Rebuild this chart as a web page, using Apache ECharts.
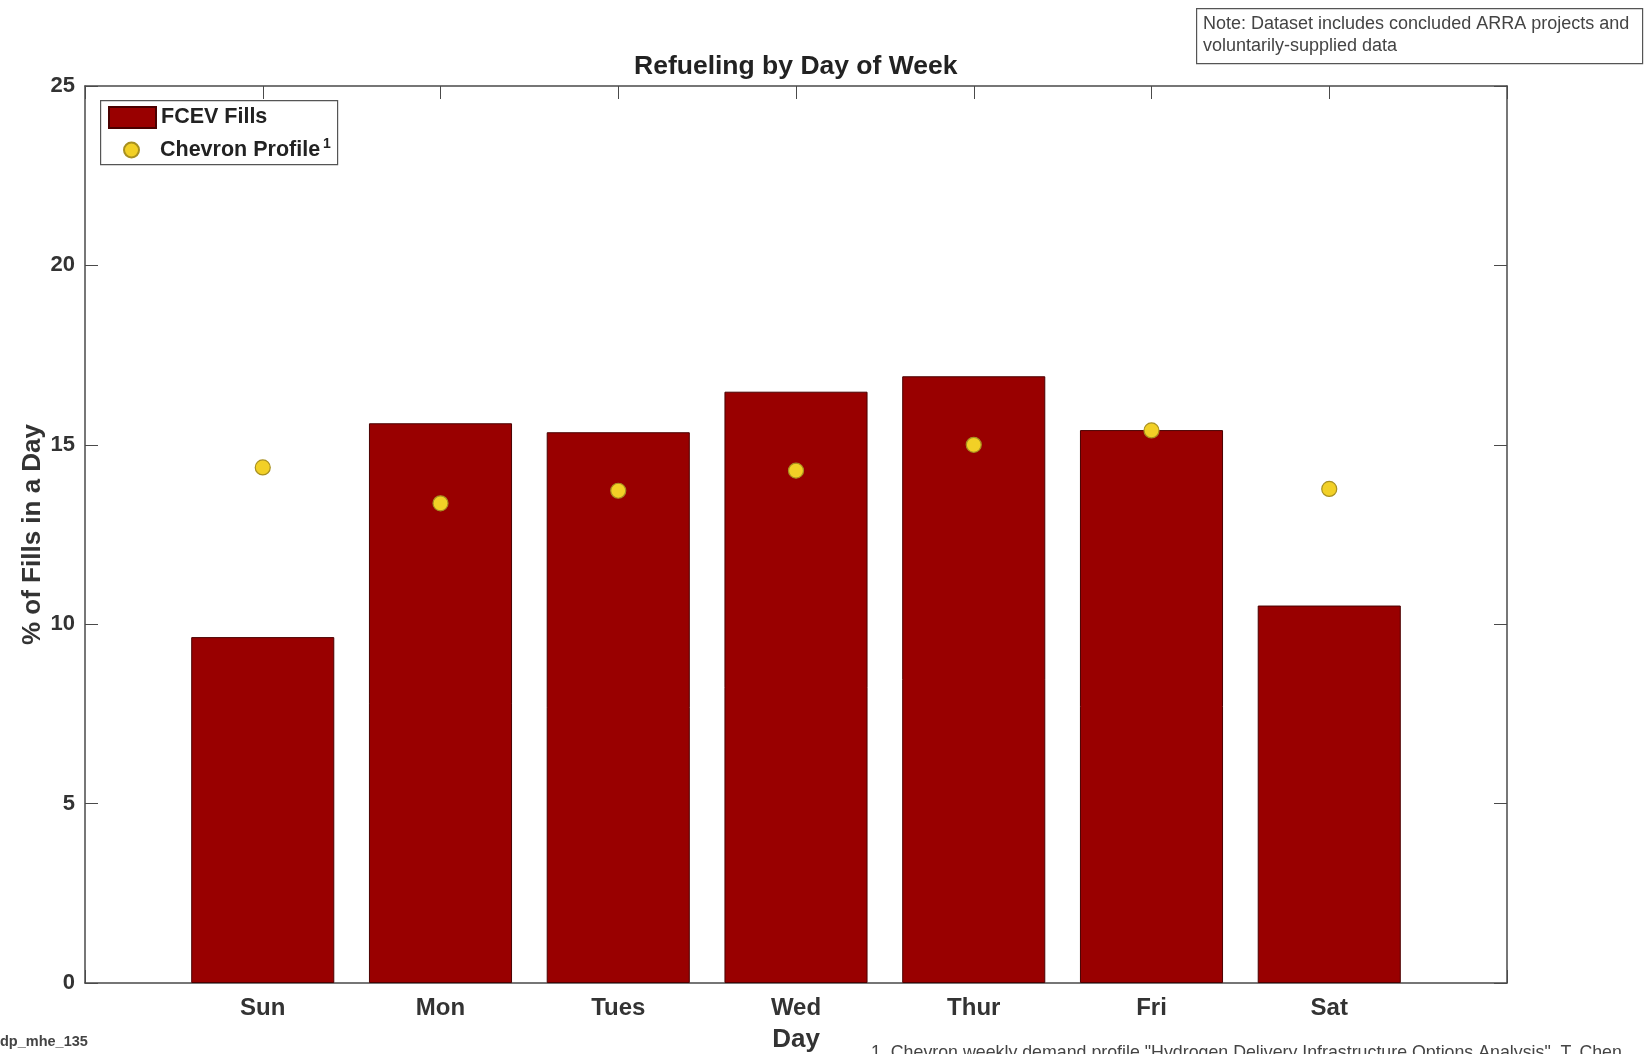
<!DOCTYPE html>
<html>
<head>
<meta charset="utf-8">
<script src="https://cdn.jsdelivr.net/npm/echarts@6/dist/echarts.min.js"></script>
<style>
html,body{margin:0;padding:0;background:#fff;}
#c{width:1645px;height:1054px;}
</style>
</head>
<body>
<div id="c"></div>
<script>
const days = ['Sun', 'Mon', 'Tues', 'Wed', 'Thur', 'Fri', 'Sat'];
const fcevFills = [9.64, 15.60, 15.35, 16.48, 16.91, 15.41, 10.52];
const chevronProfile = [14.37, 13.37, 13.72, 14.28, 15.00, 15.40, 13.77];
const yTicks = [0, 5, 10, 15, 20, 25];

// MATLAB-style x range: one empty slot each side of the seven days
const xCats = [''].concat(days, ['']);
const barData = [null].concat(fcevFills, [null]);
const dotData = [null].concat(chevronProfile, [null]);

const FONT = "'Liberation Sans', Arial, Helvetica, sans-serif";
const TXT = '#333333';
const AX = '#4a4a4a';

const chart = echarts.init(document.getElementById('c'), null, {renderer: 'canvas'});

const option = {
  backgroundColor: '#ffffff',
  animation: false,
  title: {
    text: 'Refueling by Day of Week',
    left: 634, top: 53, padding: 0,
    textStyle: {fontFamily: FONT, fontSize: 26.5, fontWeight: 'bold', color: '#222'}
  },
  legend: [
    {
      data: [{name: 'FCEV Fills', icon: 'rect'}],
      left: 108, top: 106, orient: 'vertical', padding: 0,
      itemWidth: 47, itemHeight: 21,
      textStyle: {fontFamily: FONT, fontSize: 21.5, fontWeight: 'bold', color: '#222'}
    },
    {
      data: [{name: 'Chevron Profile', icon: 'circle'}],
      left: 123, top: 137, orient: 'vertical', padding: 0,
      itemWidth: 47, itemHeight: 15,
      formatter: function (n) { return '{a|' + n + '}{s|1}'; },
      textStyle: {
        fontFamily: FONT, fontSize: 21.5, fontWeight: 'bold', color: '#222',
        rich: {
          a: {fontFamily: FONT, fontSize: 21.5, fontWeight: 'bold', color: '#222'},
          s: {fontFamily: FONT, fontSize: 14, fontWeight: 'bold', color: '#222', verticalAlign: 'top', padding: [0, 0, 12, 3]}
        }
      }
    }
  ],
  grid: {left: 85, right: 138, top: 86, bottom: 71, containLabel: false, outerBoundsMode: 'none'},
  xAxis: [
    {
      type: 'category', data: xCats, position: 'bottom', boundaryGap: false,
      name: 'Day', nameLocation: 'middle', nameGap: 44, nameMoveOverlap: false,
      nameTextStyle: {fontFamily: FONT, fontSize: 26, fontWeight: 'bold', color: TXT},
      axisLine: {show: true, onZero: false, lineStyle: {color: AX, width: 1.5}},
      axisTick: {show: true, inside: true, length: 13, lineStyle: {color: AX, width: 1}},
      axisLabel: {fontFamily: FONT, fontSize: 24, fontWeight: 'bold', color: TXT, margin: 13, interval: 0},
      splitLine: {show: false}
    },
    {
      type: 'category', data: xCats, position: 'top', boundaryGap: false,
      axisLine: {show: true, onZero: false, lineStyle: {color: AX, width: 1.5}},
      axisTick: {show: true, inside: true, length: 13, lineStyle: {color: AX, width: 1}},
      axisLabel: {show: false},
      splitLine: {show: false}
    }
  ],
  yAxis: [
    {
      type: 'value', min: yTicks[0], max: yTicks[yTicks.length - 1], interval: 5, position: 'left',
      name: '% of Fills in a Day', nameLocation: 'middle', nameGap: 39, nameRotate: 90, nameMoveOverlap: false,
      nameTextStyle: {fontFamily: FONT, fontSize: 26, fontWeight: 'bold', color: TXT},
      axisLine: {show: true, onZero: false, lineStyle: {color: AX, width: 1.5}},
      axisTick: {show: true, inside: true, length: 13, lineStyle: {color: AX, width: 1}},
      axisLabel: {fontFamily: FONT, fontSize: 22, fontWeight: 'bold', color: TXT, margin: 10},
      splitLine: {show: false}
    },
    {
      type: 'value', min: yTicks[0], max: yTicks[yTicks.length - 1], interval: 5, position: 'right',
      axisLine: {show: true, onZero: false, lineStyle: {color: AX, width: 1.5}},
      axisTick: {show: true, inside: true, length: 13, lineStyle: {color: AX, width: 1}},
      axisLabel: {show: false},
      splitLine: {show: false}
    }
  ],
  series: [
    {
      name: 'FCEV Fills', type: 'bar', data: barData,
      xAxisIndex: 0, yAxisIndex: 0,
      barWidth: '80.5%',
      itemStyle: {color: '#990000', borderColor: '#4a0000', borderWidth: 1}
    },
    {
      name: 'Chevron Profile', type: 'scatter', data: dotData,
      xAxisIndex: 0, yAxisIndex: 0,
      symbol: 'circle', symbolSize: 15, z: 5,
      itemStyle: {color: '#f2d026', borderColor: '#a89020', borderWidth: 1.2, opacity: 1}
    }
  ],
  graphic: [
    {
      type: 'rect', left: 100, top: 100, z: 100,
      shape: {width: 237, height: 64},
      style: {fill: 'rgba(0,0,0,0)', stroke: '#555', lineWidth: 1.2},
      silent: true
    },
    {
      type: 'rect', left: 1196, top: 8, z: 100,
      shape: {width: 446, height: 55},
      style: {fill: '#fff', stroke: '#555', lineWidth: 1.2},
      silent: true
    },
    {
      type: 'text', left: 1203, top: 13, z: 101,
      style: {
        text: 'Note: Dataset includes concluded ARRA projects and\nvoluntarily-supplied data',
        fontFamily: FONT, fontSize: 18, lineHeight: 22, fill: '#444'
      }
    },
    {
      type: 'text', left: 0, top: 1034, z: 101,
      style: {text: 'dp_mhe_135', fontFamily: FONT, fontSize: 14.5, fontWeight: 'bold', fill: '#444'}
    },
    {
      type: 'text', left: 871, top: 1044, z: 101,
      style: {
        text: '1. Chevron weekly demand profile "Hydrogen Delivery Infrastructure Options Analysis", T. Chen',
        fontFamily: FONT, fontSize: 17.8, fill: '#444'
      }
    }
  ]
};

chart.setOption(option);
</script>
</body>
</html>
